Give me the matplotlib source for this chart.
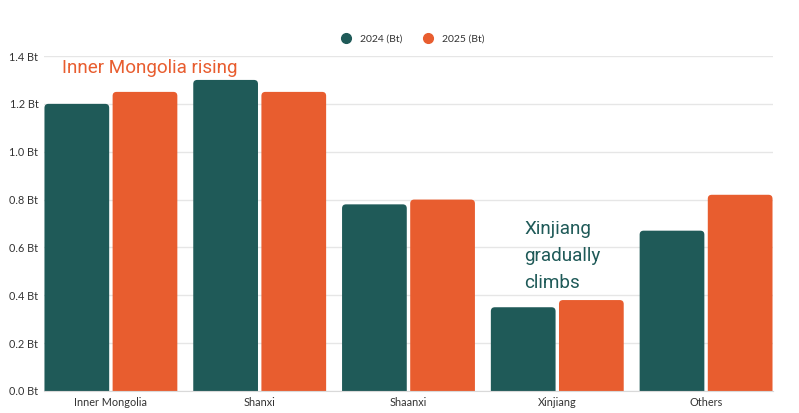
"""
Coal output by province, 2024 vs 2025 (Bt).
Grouped bar chart with rounded bar tops and two callouts.
"""

import matplotlib.pyplot as plt
import numpy as np
from matplotlib.patches import PathPatch
from matplotlib.path import Path
from matplotlib.lines import Line2D

provinces = ["Inner Mongolia", "Shanxi", "Shaanxi", "Xinjiang", "Others"]
values_2024 = [1.20, 1.30, 0.78, 0.35, 0.67]
values_2025 = [1.25, 1.25, 0.80, 0.38, 0.82]
series_labels = ["2024 (Bt)", "2025 (Bt)"]
y_ticks = [0.0, 0.2, 0.4, 0.6, 0.8, 1.0, 1.2, 1.4]

dark_green = "#1f5a58"
orange = "#e85d2f"
text_gray = "#333333"

plt.rcParams["font.family"] = ["Lato", "DejaVu Sans"]

fig = plt.figure(figsize=(7.99, 4.13), dpi=100)
ax = fig.add_axes([0.055, 0.0533, 0.9125, 0.8111])

x = np.arange(len(provinces))
bar_w = 0.435
offset = 0.229

bars_a = ax.bar(x - offset, values_2024, bar_w, color=dark_green, zorder=2)
bars_b = ax.bar(x + offset, values_2025, bar_w, color=orange, zorder=2)

ax.set_xlim(-0.45, 4.45)
ax.set_ylim(0, 1.4)
fig.canvas.draw()
# 4 px corner radius, converted to data units on each axis
rx = 4 / (ax.bbox.width / 4.9)
ry = 4 / (ax.bbox.height / 1.4)


def rounded_top(x0, w, h):
    verts = [(x0, 0), (x0, h - ry), (x0, h), (x0 + rx, h),
             (x0 + w - rx, h), (x0 + w, h), (x0 + w, h - ry),
             (x0 + w, 0), (x0, 0)]
    codes = [Path.MOVETO, Path.LINETO, Path.CURVE3, Path.CURVE3,
             Path.LINETO, Path.CURVE3, Path.CURVE3,
             Path.LINETO, Path.CLOSEPOLY]
    return Path(verts, codes)


# swap the plain rectangles for ones with rounded tops
for bars, color in [(bars_a, dark_green), (bars_b, orange)]:
    for b in bars:
        b.set_visible(False)
        path = rounded_top(b.get_x(), b.get_width(), b.get_height())
        ax.add_patch(PathPatch(path, facecolor=color, edgecolor="none",
                               zorder=2))

ax.set_xticks(x)
ax.set_xticklabels(provinces, fontsize=7.8, color=text_gray)
ax.set_yticks(y_ticks)
ax.set_yticklabels([f"{t:.1f} Bt" for t in y_ticks], fontsize=7.8,
                   color=text_gray)
ax.tick_params(length=0, pad=4)
ax.grid(axis="y", color="#e6e6e6", linewidth=1, zorder=0)
for side in ["top", "right", "left"]:
    ax.spines[side].set_visible(False)
ax.spines["bottom"].set_color("#d9d9d9")

# callouts
ax.text(-0.33, 1.35, "Inner Mongolia rising", fontsize=13.6, color=orange,
        family=["Roboto", "DejaVu Sans"], va="center", ha="left")
ax.text(2.78, 0.715, "Xinjiang\ngradually\nclimbs", fontsize=13.6,
        color=dark_green, family=["Roboto", "DejaVu Sans"],
        va="top", ha="left", linespacing=1.65)

handles = [
    Line2D([], [], marker="o", linestyle="", markersize=7,
           color=c) for c in (dark_green, orange)
]
fig.legend(handles, series_labels, loc="center", bbox_to_anchor=(0.513, 0.905),
           ncol=2, frameon=False, fontsize=7.5, handletextpad=0.3,
           columnspacing=1.5, labelcolor=text_gray)

fig.savefig("out.png", dpi=100)
